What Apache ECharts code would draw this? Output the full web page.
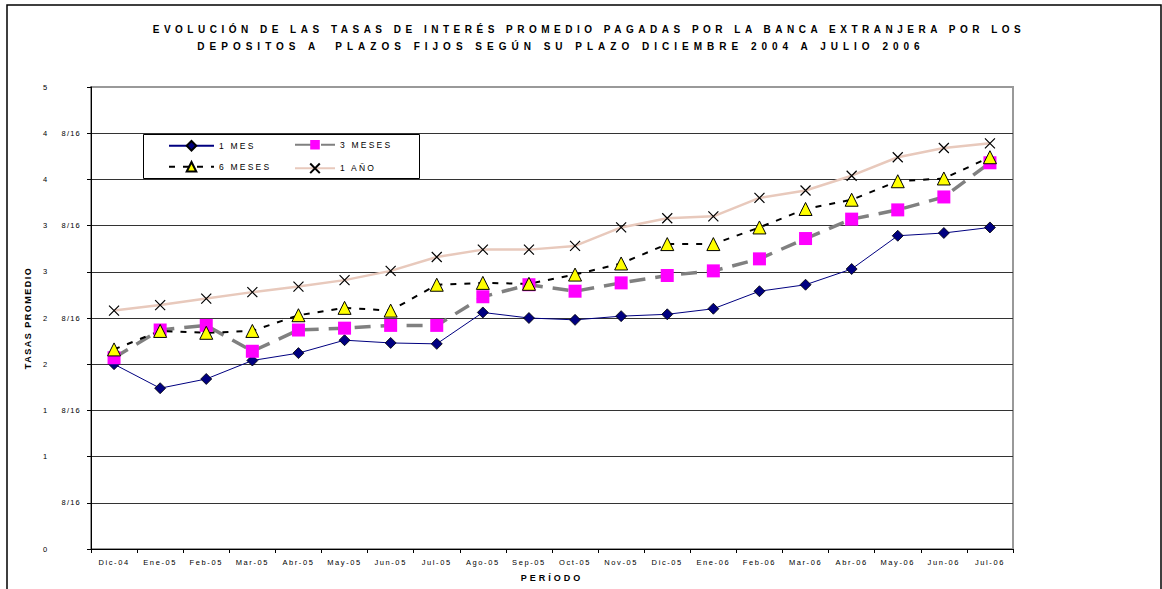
<!DOCTYPE html>
<html>
<head>
<meta charset="utf-8">
<script src="https://cdn.jsdelivr.net/npm/echarts@6/dist/echarts.min.js"></script>
<style>
html,body{margin:0;padding:0;background:#fff;}
#chart{width:1162px;height:589px;}
</style>
</head>
<body>
<div id="chart"></div>
<script>
const titleLine1 = 'EVOLUCIÓN DE LAS TASAS DE INTERÉS PROMEDIO PAGADAS POR LA BANCA EXTRANJERA POR LOS';
const titleLine2 = 'DEPOSITOS A  PLAZOS FIJOS SEGÚN SU PLAZO DICIEMBRE 2004 A JULIO 2006';
const xName = 'PERÍODO';
const yName = 'TASAS PROMEDIO';
const categories = ['Dic-04','Ene-05','Feb-05','Mar-05','Abr-05','May-05','Jun-05','Jul-05','Ago-05','Sep-05','Oct-05','Nov-05','Dic-05','Ene-06','Feb-06','Mar-06','Abr-06','May-06','Jun-06','Jul-06'];
const seriesNames = ['1 MES','3 MESES','6 MESES','1 AÑO'];
const mes1 = [2.00,1.74,1.84,2.04,2.12,2.26,2.23,2.22,2.56,2.50,2.48,2.52,2.54,2.60,2.79,2.86,3.03,3.39,3.42,3.48];
const mes3 = [2.07,2.37,2.42,2.14,2.37,2.39,2.42,2.42,2.73,2.86,2.79,2.88,2.96,3.01,3.14,3.36,3.57,3.67,3.81,4.18];
const mes6 = [2.16,2.36,2.34,2.36,2.53,2.61,2.58,2.86,2.88,2.87,2.97,3.09,3.30,3.30,3.48,3.68,3.78,3.98,4.01,4.24];
const ano1 = [2.58,2.64,2.71,2.78,2.84,2.91,3.01,3.16,3.24,3.24,3.28,3.48,3.58,3.60,3.80,3.88,4.04,4.24,4.34,4.39];
const yTickInts = ['0','','1','1','2','2','3','3','4','4','5'];
const yTickFracs = ['','8/16','','8/16','','8/16','','8/16','','8/16',''];

const FONT = '"Liberation Sans", Arial, sans-serif';
const chart = echarts.init(document.getElementById('chart'), null, {renderer: 'svg'});

function yLabel(v) {
  const idx = Math.round(v / 0.5);
  const i = yTickInts[idx];
  const f = yTickFracs[idx];
  if (i && f) return '{i|' + i + '}{f|' + f + '}';
  if (i) return '{i|' + i + '}';
  return '{g|' + f + '}';
}

const legendBase = {
  padding: 0, itemWidth: 45, itemHeight: 12, z: 10,
  textStyle: {fontFamily: FONT, fontSize: 8.5, color: '#000'},
  selectedMode: false
};

const option = {
  animation: false,
  backgroundColor: '#fff',
  title: [
    {text: titleLine1, left: 584, top: 19, textAlign: 'center',
     textStyle: {fontFamily: FONT, fontSize: 10, fontWeight: 'bold', color: '#000'}},
    {text: titleLine2, left: 556, top: 36, textAlign: 'center',
     textStyle: {fontFamily: FONT, fontSize: 10, fontWeight: 'bold', color: '#000'}}
  ],
  grid: {left: 91, right: 149, top: 87, bottom: 40, show: true, borderColor: '#999', borderWidth: 2, backgroundColor: 'transparent'},
  graphic: [
    {type: 'rect', shape: {x: 7, y: 5, width: 1154, height: 620}, style: {fill: 'none', stroke: '#000', lineWidth: 1.5}, z: 0, silent: true},
    {type: 'rect', shape: {x: 143.5, y: 134.5, width: 276, height: 44}, style: {fill: '#fff', stroke: '#000', lineWidth: 1}, z: 9, silent: true}
  ],
  legend: [
    Object.assign({}, legendBase, {data: [seriesNames[0]], left: 168, top: 140}),
    Object.assign({}, legendBase, {data: [seriesNames[1]], left: 294, top: 140, itemWidth: 40}),
    Object.assign({}, legendBase, {data: [seriesNames[2]], left: 168, top: 161}),
    Object.assign({}, legendBase, {data: [seriesNames[3]], left: 294, top: 161, itemWidth: 40})
  ],
  xAxis: {
    type: 'category', data: categories, boundaryGap: true,
    name: xName, nameLocation: 'middle', nameGap: 24,
    nameTextStyle: {fontFamily: FONT, fontSize: 9, fontWeight: 'bold', color: '#000'},
    axisLine: {lineStyle: {color: '#000', width: 1}},
    axisTick: {show: true, length: 4, lineStyle: {color: '#000'}},
    axisLabel: {interval: 0, margin: 9, fontFamily: FONT, fontSize: 7.5, color: '#000'},
    splitLine: {show: false}
  },
  yAxis: {
    type: 'value', min: 0, max: 5, interval: 0.5,
    name: yName, nameLocation: 'middle', nameGap: 59, nameRotate: 90,
    nameTextStyle: {fontFamily: FONT, fontSize: 9, fontWeight: 'bold', color: '#000'},
    axisLine: {show: true, lineStyle: {color: '#000', width: 1}},
    axisTick: {show: true, length: 4, lineStyle: {color: '#000'}},
    axisLabel: {
      margin: 48, align: 'left', formatter: yLabel,
      rich: {
        i: {width: 16, align: 'left', fontFamily: FONT, fontSize: 7.5, color: '#000'},
        f: {width: 22, align: 'right', fontFamily: FONT, fontSize: 7.5, color: '#000'},
        g: {width: 38, align: 'right', fontFamily: FONT, fontSize: 7.5, color: '#000'}
      }
    },
    splitLine: {show: true, lineStyle: {color: ['#333','#333','#333','#333','#333','#333','#333','#333','#333','#333','#999'], width: 1}}
  },
  series: [
    {name: seriesNames[0], type: 'line', data: mes1, symbol: 'diamond', symbolSize: 11,
     lineStyle: {color: '#000080', width: 1},
     itemStyle: {color: '#000080', borderColor: '#000', borderWidth: 0.8}},
    {name: seriesNames[1], type: 'line', data: mes3, symbol: 'rect', symbolSize: 13,
     lineStyle: {color: '#808080', width: 3.5, type: [16, 10]},
     itemStyle: {color: '#FF00FF', borderWidth: 0}},
    {name: seriesNames[2], type: 'line', data: mes6, symbol: 'triangle', symbolSize: 13,
     lineStyle: {color: '#000', width: 2, type: [6, 8]},
     itemStyle: {color: '#FFFF00', borderColor: '#000', borderWidth: 1}},
    {name: seriesNames[3], type: 'line', data: ano1, symbol: 'path://M0,0L10,10M10,0L0,10', symbolSize: 10,
     lineStyle: {color: '#E8C9BC', width: 2.5},
     itemStyle: {color: 'none', borderColor: '#000', borderWidth: 1.2}}
  ]
};
chart.setOption(option);

function applySpacing() {
  document.querySelectorAll('#chart text').forEach(function (t) {
    const s = t.textContent;
    let ls = 1.6;
    if (s === titleLine1) ls = 4.5;
    else if (s === titleLine2) ls = 5.0;
    else if (s === xName) ls = 3;
    else if (s === yName) ls = 1.5;
    else if (seriesNames.indexOf(s) >= 0) ls = 2.2;
    else if (s.indexOf('/') >= 0) ls = 1.2;
    t.style.letterSpacing = ls + 'px';
  });
}
chart.on('finished', applySpacing);
setTimeout(applySpacing, 0);
applySpacing();
</script>
</body>
</html>
